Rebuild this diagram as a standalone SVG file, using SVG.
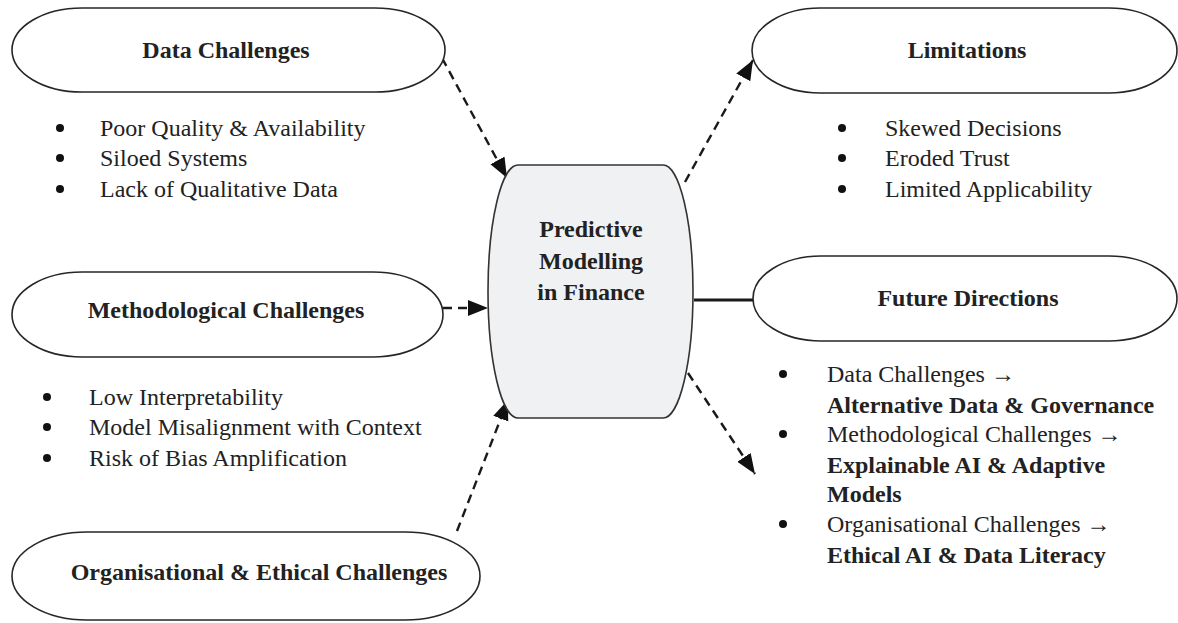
<svg xmlns="http://www.w3.org/2000/svg" width="1178" height="623" viewBox="0 0 1178 623">
  <style>
    .shape { fill: #ffffff; stroke: #262626; stroke-width: 1.6; }
    .core { fill: #f0f1f3; stroke: #333333; stroke-width: 1.6; }
    .title { font-family: "Liberation Serif", "Times New Roman", serif; font-size: 24px; font-weight: bold; fill: #222222; text-anchor: middle; }
    .item { font-family: "Liberation Serif", "Times New Roman", serif; font-size: 24px; fill: #222222; }
    .item.b { font-weight: bold; }
    .dot { fill: #111111; }
    .dash { fill: none; stroke: #1a1a1a; stroke-width: 2.4; stroke-dasharray: 9 6; }
    .solid { fill: none; stroke: #1a1a1a; stroke-width: 3.2; }
  </style>
  <defs>
    <marker id="arrow" markerUnits="userSpaceOnUse" markerWidth="22" markerHeight="18" refX="20" refY="8" orient="auto">
      <path d="M0,0 L20,8 L0,16 z" fill="#111111"/>
    </marker>
  </defs>

  <!-- connectors -->
  <g id="connectors">
    <line class="dash" x1="442" y1="58" x2="507" y2="178" marker-end="url(#arrow)"/>
    <line class="dash" x1="443" y1="308" x2="488" y2="308" marker-end="url(#arrow)"/>
    <line class="dash" x1="457" y1="531" x2="508" y2="400" marker-end="url(#arrow)"/>
    <line class="dash" x1="685" y1="182" x2="753" y2="60" marker-end="url(#arrow)"/>
    <line class="dash" x1="688" y1="373" x2="755" y2="474" marker-end="url(#arrow)"/>
    <line class="solid" x1="694" y1="300" x2="753" y2="300"/>
  </g>

  <!-- central node -->
  <g id="predictive-modelling">
    <path class="core" d="M518,165 H663 A30,126.5 0 0 1 663,418 H518 A30,126.5 0 0 1 518,165 Z"/>
    <text class="title" x="591" y="237">Predictive</text>
    <text class="title" x="591" y="268.5">Modelling</text>
    <text class="title" x="591" y="300">in Finance</text>
  </g>

  <!-- data challenges -->
  <g id="data-challenges">
    <path class="shape" d="M82,8 H375 A70,42 0 0 1 375,92 H82 A70,42 0 0 1 82,8 Z"/>
    <text class="title" x="226" y="58">Data Challenges</text>
    <circle class="dot" cx="60" cy="128" r="4"/>
    <circle class="dot" cx="60" cy="158" r="4"/>
    <circle class="dot" cx="60" cy="189" r="4"/>
    <text class="item" x="100" y="136">Poor Quality &amp; Availability</text>
    <text class="item" x="100" y="166">Siloed Systems</text>
    <text class="item" x="100" y="197">Lack of Qualitative Data</text>
  </g>

  <!-- methodological challenges -->
  <g id="methodological-challenges">
    <path class="shape" d="M82,272 H373 A70,42.5 0 0 1 373,357 H82 A70,42.5 0 0 1 82,272 Z"/>
    <text class="title" x="226" y="318">Methodological Challenges</text>
    <circle class="dot" cx="47" cy="397" r="4"/>
    <circle class="dot" cx="47" cy="427" r="4"/>
    <circle class="dot" cx="47" cy="458" r="4"/>
    <text class="item" x="89" y="405">Low Interpretability</text>
    <text class="item" x="89" y="435">Model Misalignment with Context</text>
    <text class="item" x="89" y="466">Risk of Bias Amplification</text>
  </g>

  <!-- organisational and ethical challenges -->
  <g id="organisational-challenges">
    <path class="shape" d="M87,532 H405 A75,44 0 0 1 405,620 H87 A75,44 0 0 1 87,532 Z"/>
    <text class="title" x="259" y="580">Organisational &amp; Ethical Challenges</text>
  </g>

  <!-- limitations -->
  <g id="limitations">
    <path class="shape" d="M820,8 H1109 A68,42.5 0 0 1 1109,93 H820 A68,42.5 0 0 1 820,8 Z"/>
    <text class="title" x="967" y="58">Limitations</text>
    <circle class="dot" cx="842" cy="128" r="4"/>
    <circle class="dot" cx="842" cy="158" r="4"/>
    <circle class="dot" cx="842" cy="189" r="4"/>
    <text class="item" x="885" y="136">Skewed Decisions</text>
    <text class="item" x="885" y="166">Eroded Trust</text>
    <text class="item" x="885" y="197">Limited Applicability</text>
  </g>

  <!-- future directions -->
  <g id="future-directions">
    <path class="shape" d="M821,256 H1109 A68,42.5 0 0 1 1109,341 H821 A68,42.5 0 0 1 821,256 Z"/>
    <text class="title" x="968" y="306">Future Directions</text>
    <circle class="dot" cx="783" cy="374" r="4"/>
    <circle class="dot" cx="783" cy="434" r="4"/>
    <circle class="dot" cx="783" cy="524" r="4"/>
    <text class="item" x="827" y="382">Data Challenges →</text>
    <text class="item b" x="827" y="413">Alternative Data &amp; Governance</text>
    <text class="item" x="827" y="442">Methodological Challenges →</text>
    <text class="item b" x="827" y="473">Explainable AI &amp; Adaptive</text>
    <text class="item b" x="827" y="502">Models</text>
    <text class="item" x="827" y="532">Organisational Challenges →</text>
    <text class="item b" x="827" y="563">Ethical AI &amp; Data Literacy</text>
  </g>
</svg>
